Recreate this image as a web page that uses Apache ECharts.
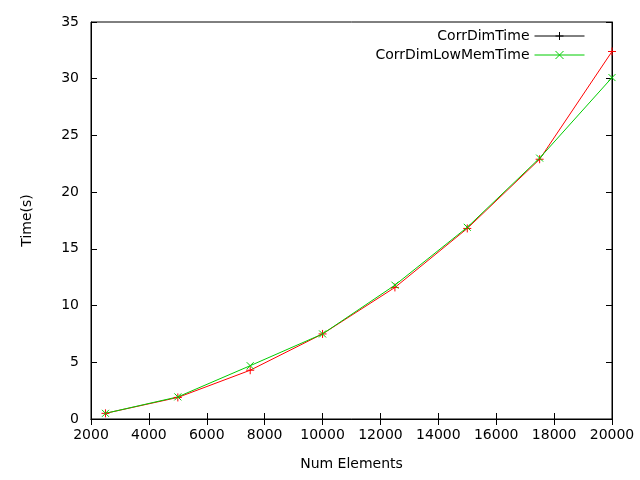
<!DOCTYPE html>
<html><head><meta charset="utf-8">
<script src="https://cdn.jsdelivr.net/npm/echarts@6/dist/echarts.min.js"></script>
<style>html,body{margin:0;padding:0;background:#fff}#c{width:640px;height:480px}</style>
</head><body><div id="c"></div>
<script>
const xs = [2500,5000,7500,10000,12500,15000,17500,20000];
const corrDimTime = [0.5,1.9,4.3,7.5,11.6,16.8,22.9,32.4];
const corrDimLowMemTime = [0.5,1.95,4.7,7.5,11.8,16.9,23.0,30.1];
const plus = 'path://M0,5L10,5M5,0L5,10';
const cross = 'path://M0,0L10,10M10,0L0,10';
const font = {fontFamily:'DejaVu Sans', fontSize:14, color:'#000', formatter:v=>String(v)};
const chart = echarts.init(document.getElementById('c'));
const axBase = {axisLine:{show:true,lineStyle:{color:'#000'}},axisTick:{inside:true,length:6,lineStyle:{color:'#000'}},splitLine:{show:false}};
chart.setOption({
  animation:false,
  grid:{left:91,right:28,top:22,bottom:61,show:true,borderColor:'#000',borderWidth:1},
  legend:{orient:'vertical',right:50,top:24,align:'right',itemWidth:50,itemHeight:10,itemGap:5,
    textStyle:{fontFamily:'DejaVu Sans',fontSize:14,color:'#000'},
    data:[{name:'CorrDimTime',itemStyle:{color:'none',borderColor:'#000',borderWidth:1},lineStyle:{color:'#000',width:1}},
          {name:'CorrDimLowMemTime',itemStyle:{color:'none',borderColor:'#0c0',borderWidth:1},lineStyle:{color:'#0c0',width:1}}]},
  xAxis:[Object.assign({type:'value',min:2000,max:20000,interval:2000,name:'Num Elements',nameLocation:'middle',nameGap:38,nameTextStyle:{fontFamily:'DejaVu Sans',fontSize:14,color:'#000'},axisLabel:Object.assign({margin:9},font)},axBase),
         Object.assign({type:'value',position:'top',min:2000,max:20000,interval:2000,axisLabel:{show:false}},axBase)],
  yAxis:[Object.assign({type:'value',min:0,max:35,interval:5,name:'Time(s)',nameLocation:'middle',nameGap:57,nameTextStyle:{fontFamily:'DejaVu Sans',fontSize:14,color:'#000'},axisLabel:Object.assign({margin:12},font)},axBase),
         Object.assign({type:'value',position:'right',min:0,max:35,interval:5,axisLabel:{show:false}},axBase)],
  series:[
    {name:'CorrDimTime',type:'line',data:xs.map((x,i)=>[x,corrDimTime[i]]),symbol:plus,symbolSize:8,
     lineStyle:{color:'#f00',width:1},itemStyle:{color:'none',borderColor:'#f00',borderWidth:1}},
    {name:'CorrDimLowMemTime',type:'line',data:xs.map((x,i)=>[x,corrDimLowMemTime[i]]),symbol:cross,symbolSize:7,
     lineStyle:{color:'#0c0',width:1},itemStyle:{color:'none',borderColor:'#0c0',borderWidth:1}}
  ]
});
</script></body></html>
